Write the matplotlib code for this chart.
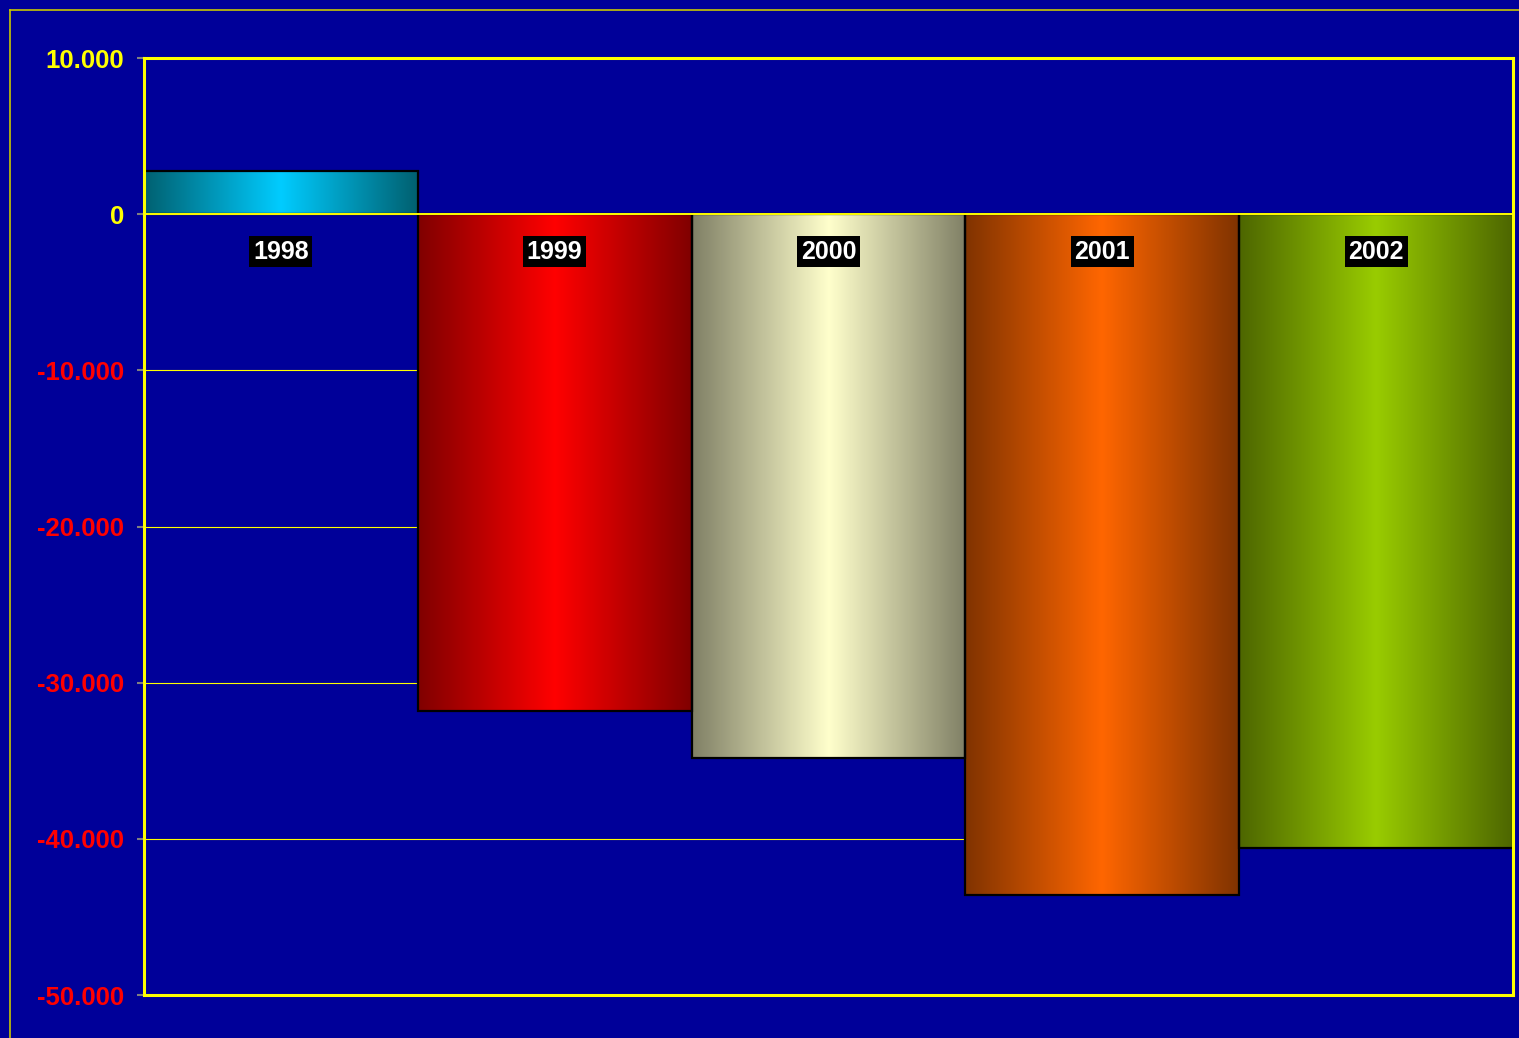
import matplotlib.pyplot as plt
import numpy as np
from matplotlib.colors import LinearSegmentedColormap
from matplotlib.ticker import FuncFormatter
from matplotlib.lines import Line2D

plt.rcParams['font.family'] = ['Liberation Sans', 'DejaVu Sans']

years = ['1998', '1999', '2000', '2001', '2002']
values = [2750, -31800, -34800, -43600, -40600]
edge_colors = ['#006070', '#800000', '#808066', '#803300', '#4d6600']
mid_colors = ['#00ccff', '#ff0000', '#ffffcc', '#ff6600', '#99cc00']

bg = '#000099'
fig = plt.figure(figsize=(15.19, 10.38), dpi=100, facecolor=bg)
ax = fig.add_axes([0.0948, 0.0414, 0.9012, 0.9027], facecolor=bg)

x = np.arange(len(years))
bars = ax.bar(x, values, width=1.0, facecolor='none', edgecolor='black',
              linewidth=1.6, zorder=4)

# gradient fill for each bar
grad = np.linspace(0, 1, 256).reshape(1, -1)
for b, c0, c1 in zip(bars, edge_colors, mid_colors):
    cmap = LinearSegmentedColormap.from_list('g', [c0, c1, c0])
    x0, y0 = b.get_x(), b.get_y()
    w, h = b.get_width(), b.get_height()
    ax.imshow(grad, cmap=cmap, aspect='auto', zorder=3,
              extent=[x0, x0 + w, y0, y0 + h], interpolation='bicubic')

ax.set_xlim(-0.5, len(years) - 0.5)
ax.set_ylim(-50000, 10000)
ax.set_yticks(np.arange(-50000, 10001, 10000))
ax.yaxis.set_major_formatter(FuncFormatter(lambda v, p: f'{int(v):,}'.replace(',', '.')))
ax.set_xticks([])

ax.grid(axis='y', color='#ffff00', linewidth=0.8, zorder=1)
ax.set_axisbelow(True)
ax.axhline(0, color='#ffff00', linewidth=1.4, zorder=5)

for s in ax.spines.values():
    s.set_color('#ffff00')
    s.set_linewidth(2.2)
    s.set_zorder(6)

ax.tick_params(axis='y', length=5, width=1.5, color='#808080', pad=9.5,
               labelsize=18.5)
for lab, v in zip(ax.get_yticklabels(), ax.get_yticks()):
    lab.set_fontweight('bold')
    lab.set_color('#ffff00' if v >= 0 else '#ff0000')

for xi, yr in zip(x, years):
    ax.annotate(yr, xy=(xi, 0), xytext=(0, -27), textcoords='offset points',
                ha='center', va='center', fontsize=18, fontweight='bold',
                color='white', zorder=7,
                bbox=dict(boxstyle='square,pad=0.15', facecolor='black',
                          edgecolor='none'))

# outer frame of the chart area
W, H = 1519, 1038
fig.add_artist(Line2D([10 / W, 10 / W], [1 - 10 / H, 0], color='#c8c800',
                      linewidth=1.2, transform=fig.transFigure))
fig.add_artist(Line2D([10 / W, 1], [1 - 10 / H, 1 - 10 / H], color='#c8c800',
                      linewidth=1.2, transform=fig.transFigure))

fig.savefig('out.png', dpi=100, facecolor=bg)
